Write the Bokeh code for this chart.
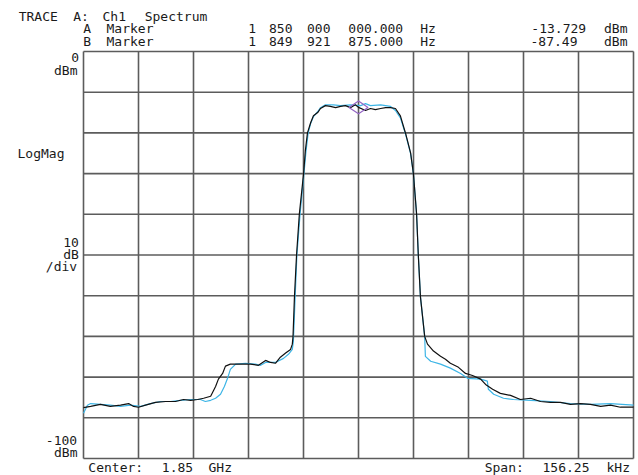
import numpy as np
from bokeh.plotting import figure
from bokeh.models import Label, Range1d
from bokeh.embed import file_html
from bokeh.resources import INLINE

# Spectrum analyser screen: channel spectrum, 1.85 GHz centre, 156.25 kHz span
CENTER_GHZ = 1.85
SPAN_KHZ = 156.25
REF_DBM = 0.0
DB_PER_DIV = 10.0
N_DIV = 10

# Trace A (black): offset from centre in kHz, level in dBm
freq_a = [
    -78.125, -76.1, -73.3, -70.5, -67.6, -65.3, -63.9, -62.5, -60.5, -57.7,
    -54.8, -52.0, -49.7, -47.7, -45.7, -44.0, -42.0, -40.6, -39.8, -38.6,
    -37.8, -36.4, -33.5, -30.7, -28.4, -26.4, -25.0, -23.6, -22.2, -20.7,
    -19.3, -18.8, -18.6, -18.2, -17.6, -16.8, -15.6, -15.1, -14.5, -13.6,
    -12.8, -11.6, -10.8, -9.4, -8.0, -6.5, -5.1, -3.7, -2.3, -0.9,
    0.0, 2.0, 3.4, 4.8, 6.3, 7.7, 9.1, 10.5, 11.9, 13.4,
    14.8, 15.6, 16.5, 17.0, 17.6, 18.8, 19.6, 21.3, 23.3, 24.7,
    26.1, 28.4, 30.4, 32.4, 34.7, 36.1, 38.1, 40.3, 43.2, 46.0,
    48.9, 51.7, 54.5, 57.4, 60.2, 63.1, 65.9, 68.8, 71.6, 74.4,
    78.125,
]
level_a = [
    -87.49, -87.2, -86.7, -87.2, -86.9, -86.5, -87.2, -87.4, -86.9, -86.2,
    -86.0, -86.0, -85.5, -85.7, -85.5, -85.2, -84.7, -82.3, -80.5, -79.1,
    -77.3, -76.8, -76.8, -76.8, -77.1, -75.9, -76.4, -76.6, -75.1, -74.1,
    -73.2, -71.9, -70.0, -60.3, -50.0, -39.9, -30.0, -24.4, -20.0, -17.5,
    -15.8, -15.0, -14.0, -13.3, -13.5, -13.8, -13.5, -13.3, -13.8, -13.1,
    -13.729, -14.5, -14.0, -14.3, -14.0, -13.8, -13.8, -14.0, -15.8, -20.2,
    -24.9, -30.0, -39.9, -50.2, -60.3, -70.0, -71.9, -73.6, -74.9, -75.6,
    -76.6, -77.6, -79.1, -79.6, -80.5, -81.8, -83.0, -84.0, -84.5, -85.5,
    -85.2, -86.0, -86.2, -86.2, -86.7, -86.5, -86.7, -87.2, -86.9, -87.4,
    -87.4,
]

# Reference trace (blue)
freq_b = [
    -78.125, -77.0, -76.1, -73.3, -70.5, -67.6, -64.8, -61.9, -59.1, -56.3,
    -53.4, -50.6, -47.7, -44.9, -43.5, -42.0, -40.6, -39.2, -38.1, -37.2,
    -36.4, -34.9, -32.1, -29.3, -27.8, -26.4, -23.6, -21.3, -19.9, -18.8,
    -18.5, -18.0, -17.5, -16.6, -15.5, -14.9, -14.3, -13.6, -12.8, -11.6,
    -10.8, -9.4, -7.1, -5.1, -2.3, 0.6, 2.0, 3.4, 6.3, 9.1,
    10.5, 11.9, 13.4, 14.8, 15.6, 16.5, 17.0, 17.6, 18.8, 19.0,
    20.5, 23.3, 26.1, 29.0, 31.0, 34.7, 36.6, 36.9, 38.4, 41.2,
    44.0, 48.9, 54.5, 60.2, 65.9, 71.6, 78.125,
]
level_b = [
    -88.9, -86.9, -86.5, -86.7, -86.9, -87.2, -86.9, -87.2, -86.5, -86.0,
    -86.0, -85.7, -85.5, -85.5, -86.0, -85.7, -85.2, -84.2, -82.3, -80.3,
    -78.1, -76.8, -76.6, -76.8, -77.1, -76.4, -76.4, -75.4, -74.4, -73.2,
    -71.2, -60.3, -50.0, -39.9, -30.0, -24.4, -20.0, -17.7, -16.0, -14.8,
    -13.8, -13.1, -13.1, -13.3, -13.1, -13.3, -12.8, -13.3, -13.1, -13.5,
    -14.5, -16.3, -20.4, -25.1, -30.0, -39.9, -50.2, -60.3, -70.0, -74.9,
    -76.1, -76.8, -77.8, -79.1, -80.3, -80.5, -81.0, -83.0, -84.2, -85.2,
    -85.5, -85.7, -86.0, -86.5, -86.7, -86.5, -86.9,
]

# Marker A sits on trace A at the centre frequency
marker_a_khz = 0.0
marker_a_dbm = -13.729

# (text, left pixel of first character cell, vertical centre of the row)
header_lines = [
    ("TRACE A: Ch1 Spectrum", 15, 15.5),
    ("A Marker", 83, 28),
    ("1 850 000 000.000 Hz", 248, 28),
    ("-13.729 dBm", 526, 28),
    ("B Marker", 83, 41),
    ("1 849 921 875.000 Hz", 248, 41),
    ("-87.49  dBm", 526, 41),
]
side_lines = [
    ("0", 71, 57), ("dBm", 52, 69.5),
    ("LogMag", 13, 153),
    ("10", 62, 242), ("dB", 62, 254), ("/div", 43, 266),
    ("-100", 43, 440), ("dBm", 52, 452),
    ("Center: 1.85 GHz", 83, 467),
    ("Span: 156.25 kHz", 481, 467),
]

# screen geometry: the graticule box inside the whole canvas
W, H = 638, 475
GL, GT, GW, GH = 83, 51, 550, 407
F_LO, F_HI = -SPAN_KHZ / 2, SPAN_KHZ / 2
Y_LO, Y_HI = REF_DBM - N_DIV * DB_PER_DIV, REF_DBM
KHZ_PER_PX = SPAN_KHZ / GW
DB_PER_PX = (Y_HI - Y_LO) / GH


def px_x(px):
    return F_LO + (px - GL) * KHZ_PER_PX


def px_y(py):
    return Y_HI - (py - GT) * DB_PER_PX


p = figure(width=W, height=H, output_backend="svg", toolbar_location=None,
           x_axis_location=None, y_axis_location=None, title=None,
           x_range=Range1d(px_x(0), px_x(W)), y_range=Range1d(px_y(H), px_y(0)),
           min_border=0)
p.background_fill_color = "white"
p.border_fill_color = "white"
p.outline_line_color = None
p.grid.visible = False

# graticule: 10 x 10 divisions, including the box edges
grid_col = "#5c5c5c"
xt = list(np.linspace(F_LO, F_HI, N_DIV + 1))
yt = list(np.linspace(Y_LO, Y_HI, N_DIV + 1))
p.segment(x0=xt, y0=[Y_LO] * len(xt), x1=xt, y1=[Y_HI] * len(xt),
          line_color=grid_col, line_width=1.6)
p.segment(x0=[F_LO] * len(yt), y0=yt, x1=[F_HI] * len(yt), y1=yt,
          line_color=grid_col, line_width=1.6)

p.line(freq_b, level_b, line_color="#3db5e6", line_width=1.2)
p.line(freq_a, level_a, line_color="#111111", line_width=1.2)
p.scatter([marker_a_khz], [marker_a_dbm], marker="diamond", angle=np.pi / 2,
          size=19, fill_color=None, line_color="#9466c4", line_width=1.2)

# character-cell text, one label per word
CELL = 9.5
FONT = "DejaVu Sans Mono"


def cell_text(s, x0, yc):
    col = 0
    for word in s.split(" "):
        if word:
            cx = x0 + (col + len(word) / 2) * CELL - 1
            p.add_layout(Label(x=px_x(cx), y=px_y(yc), text=word,
                               text_align="center", text_baseline="middle",
                               text_font=FONT, text_font_size="13px",
                               text_color="#1a1a1a"))
        col += len(word) + 1


for s, x0, yc in header_lines + side_lines:
    cell_text(s, x0, yc)

open("out.html", "w").write(file_html(p, INLINE))
